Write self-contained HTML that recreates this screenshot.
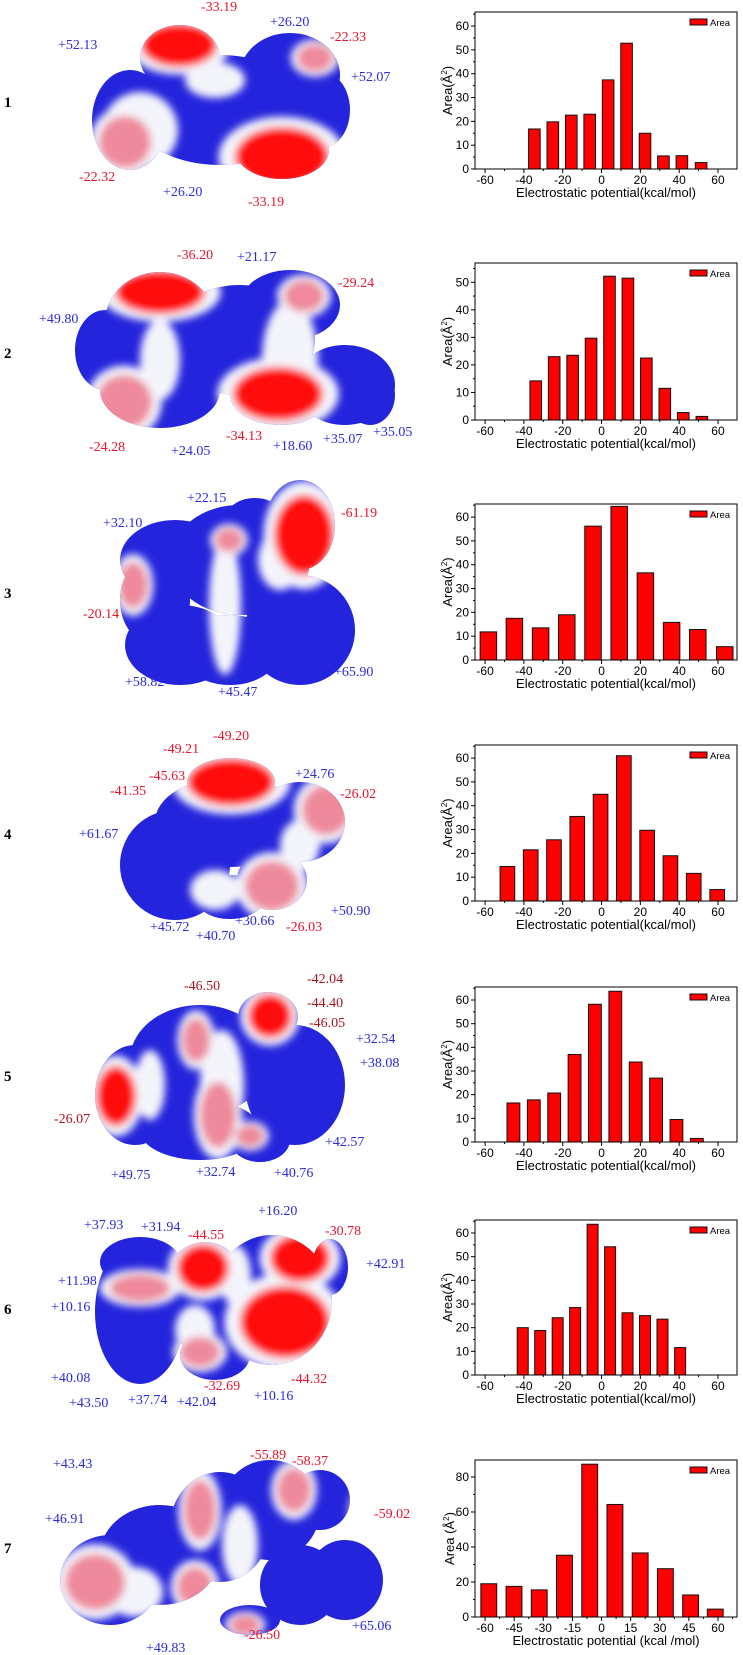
<!DOCTYPE html>
<html><head><meta charset="utf-8">
<style>
html,body{margin:0;padding:0;background:#fff;}
svg{display:block;font-family:"Liberation Sans",sans-serif;}
.lab{font-family:"Liberation Serif",serif;font-size:14px;}
.num{font-family:"Liberation Serif",serif;font-size:15px;font-weight:bold;}
</style></head>
<body>
<svg id="root" width="743" height="1655" viewBox="0 0 743 1655" xmlns="http://www.w3.org/2000/svg">
<defs>
<filter id="soft" filterUnits="userSpaceOnUse" x="0" y="0" width="743" height="1655"><feGaussianBlur stdDeviation="4"/></filter>
</defs>
<g id="mols"></g>
<g id="charts"></g>
</svg>
<script>
// ---------- chart data ----------
const centers1=[-34.6,-25.1,-15.6,-6.1,3.4,12.9,22.4,31.9,41.4,51.3];
const values1=[16.8,19.8,22.6,23.0,37.4,52.8,15.0,5.5,5.6,2.7];
const centers2=[-33.9,-24.4,-14.9,-5.4,4.1,13.6,23.1,32.6,42.1,51.7];
const values2=[14.2,23.0,23.5,29.7,52.2,51.5,22.5,11.5,2.7,1.3];
const centers3=[-58.3,-44.9,-31.4,-17.9,-4.4,9.1,22.6,36.1,49.6,63.5];
const values3=[11.8,17.5,13.5,19.0,56.2,64.5,36.6,15.8,12.8,5.6];
const centers4=[-48.5,-36.5,-24.5,-12.5,-0.5,11.5,23.5,35.5,47.5,59.6];
const values4=[14.5,21.5,25.7,35.5,44.8,61.0,29.7,19.0,11.6,4.8];
const centers5=[-45.4,-34.9,-24.4,-13.9,-3.4,7.1,17.6,28.1,38.6,49.1];
const values5=[16.5,17.8,20.7,37.0,58.2,63.7,33.8,27.0,9.5,1.5];
const centers6=[-40.6,-31.6,-22.6,-13.6,-4.6,4.4,13.4,22.4,31.4,40.5];
const values6=[20.0,18.8,24.2,28.5,63.7,54.2,26.3,25.1,23.6,11.6];
const centers7=[-58.1,-45.1,-32.1,-19.1,-6.1,6.9,19.9,32.9,45.9,58.6];
const values7=[19.0,17.5,15.5,35.3,87.3,64.3,36.6,27.6,12.6,4.5];
const xticksA=[-60,-40,-20,0,20,40,60];
const xticks7=[-60,-45,-30,-15,0,15,30,45,60];
const yticksA=[0,10,20,30,40,50,60];
const yticks2=[0,10,20,30,40,50];
const yticks7=[0,20,40,60,80];

const NS="http://www.w3.org/2000/svg";
function mk(tag,attrs,parent){const e=document.createElementNS(NS,tag);for(const k in attrs)e.setAttribute(k,attrs[k]);if(parent)parent.appendChild(e);return e;}

const chartsG=document.getElementById('charts');
const charts=[
 {c:centers1,v:values1,top:12,bot:169,ymax:65.9,yt:yticksA,xt:xticksA,step:9.5},
 {c:centers2,v:values2,top:263,bot:420,ymax:57,yt:yticks2,xt:xticksA,step:9.5},
 {c:centers3,v:values3,top:504,bot:660,ymax:65.5,yt:yticksA,xt:xticksA,step:13.5},
 {c:centers4,v:values4,top:745,bot:901,ymax:65.5,yt:yticksA,xt:xticksA,step:12},
 {c:centers5,v:values5,top:987,bot:1142,ymax:65.5,yt:yticksA,xt:xticksA,step:10.5},
 {c:centers6,v:values6,top:1220,bot:1375,ymax:65.5,yt:yticksA,xt:xticksA,step:9},
 {c:centers7,v:values7,top:1460,bot:1617,ymax:89.7,yt:yticks7,xt:xticks7,step:13,seven:true}
];
const L=475,R=737,XMIN=-65.2,XMAX=69.8;
charts.forEach((ch,ci)=>{
 const g=mk('g',{},chartsG);
 
 
 const xs=v=>L+(v-XMIN)/(XMAX-XMIN)*(R-L);
 const ys=v=>ch.bot-v/ch.ymax*(ch.bot-ch.top);
 const bw=0.63*ch.step*(R-L)/(XMAX-XMIN);
 ch.c.forEach((cx,i)=>{
  const y=ys(ch.v[i]);
  const r=mk('rect',{x:xs(cx)-bw/2,y:y,width:bw,height:ch.bot-y,fill:'#ff0000',stroke:'#111','stroke-width':1},g);
  
  
 });
 const fr=mk('rect',{x:L,y:ch.top,width:R-L,height:ch.bot-ch.top,fill:'none',stroke:'#000','stroke-width':1},g);
 
 
 const ystep=ch.yt[1]-ch.yt[0];
 ch.yt.forEach(t=>{
  const y=ys(t);
  mk('line',{x1:L-4,x2:L,y1:y,y2:y,stroke:'#000'},g);
  const my=ys(t+ystep/2); if(my>ch.top) mk('line',{x1:L-2,x2:L,y1:my,y2:my,stroke:'#000'},g);
  const tx=mk('text',{x:L-6,y:y+4,'text-anchor':'end','font-size':12},g);tx.textContent=t;
  
  
 });
 const xstep=ch.xt[1]-ch.xt[0];
 ch.xt.forEach(t=>{
  const x=xs(t);
  mk('line',{x1:x,x2:x,y1:ch.bot,y2:ch.bot+4,stroke:'#000'},g);
  const mx=xs(t+xstep/2); if(mx<R) mk('line',{x1:mx,x2:mx,y1:ch.bot,y2:ch.bot+2,stroke:'#000'},g);
  const tx=mk('text',{x:x,y:ch.bot+15,'text-anchor':'middle','font-size':12},g);tx.textContent=t;
  
  
 });
 const xt=mk('text',{x:606,y:ch.bot+28,'text-anchor':'middle','font-size':13},g);
 xt.textContent=ch.seven?'Electrostatic potential (kcal /mol)':'Electrostatic potential(kcal/mol)';
 
 
 const cy=(ch.top+ch.bot)/2;
 const yt=mk('text',{x:0,y:0,'text-anchor':'middle','font-size':13,transform:`translate(${ch.seven?454:452},${cy}) rotate(-90)`},g);
 yt.innerHTML=(ch.seven?'Area (Å':'Area(Å')+'<tspan dy="-5" font-size="8">2</tspan><tspan dy="5">)</tspan>';
 
 
 const lg=mk('g',{},g);
 
 
 mk('rect',{x:690,y:ch.top+7,width:17,height:6,fill:'#ff0000',stroke:'#111','stroke-width':1},lg);
 const lt=mk('text',{x:710,y:ch.top+14,'font-size':9.5},lg);lt.textContent='Area';
});

// ---------- molecule panels ----------
const BLUE='#2424dc',RED='#ff0f0f',PINK='#ee8a9c',WHITE='#f4f4fb';
const mols=[
 {base:[[130,120,38,50],[180,58,40,33],[220,110,90,55],[290,75,50,42],[322,110,28,38],[282,150,47,29],[127,140,28,25]],
  ov:[['w',140,130,38,38],['w',215,80,30,18],['p',125,142,26,26],['r',179,45,38,22],['r',282,157,47,30],['p',315,58,18,14]],
  labels:[['-33.19',201,6,'r'],['+26.20',270,21,'b'],['-22.33',330,36,'r'],['+52.13',58,44,'b'],['+52.07',351,76,'b'],['-22.32',79,176,'r'],['+26.20',163,191,'b'],['-33.19',248,201,'r']]},
 {base:[[105,350,30,40],[160,322,55,50],[160,390,60,38],[240,340,75,55],[290,305,50,35],[345,385,50,40],[280,395,50,30],[370,395,25,30]],
  ov:[['w',290,360,28,60],['w',160,360,20,40],['r',160,292,45,22],['r',278,394,45,27],['p',124,402,28,27],['p',304,296,20,16]],
  labels:[['-36.20',177,254,'r'],['+21.17',237,256,'b'],['-29.24',338,282,'r'],['+49.80',39,318,'b'],['-24.28',89,446,'r'],['+24.05',171,450,'b'],['-34.13',226,435,'r'],['+18.60',273,445,'b'],['+35.07',323,438,'b'],['+35.05',373,431,'b']]},
 {base:[[155,600,35,45],[175,560,55,40],[240,560,70,55],[255,520,30,22],[300,525,35,45],[300,630,55,55],[180,645,55,40],[230,650,50,35]],
  ov:[['w',225,605,16,70],['w',280,560,22,30],['r',304,535,30,40],['p',133,585,15,23],['p',229,540,14,12]],
  labels:[['+22.15',187,497,'b'],['+32.10',103,522,'b'],['-61.19',341,512,'r'],['-20.14',83,613,'r'],['+58.82',125,681,'b'],['+45.47',218,691,'b'],['+65.90',334,671,'b']]},
 {base:[[175,865,55,55],[230,822,75,45],[231,782,44,24],[300,822,45,40],[272,880,35,30],[230,897,35,22]],
  ov:[['w',215,890,25,20],['w',300,845,20,25],['r',231,782,44,24],['p',326,810,24,25],['p',272,886,27,25]],
  labels:[['-49.21',163,748,'r'],['-49.20',213,735,'r'],['-45.63',149,775,'r'],['+24.76',295,773,'b'],['-41.35',110,790,'r'],['-26.02',340,793,'r'],['+61.67',79,833,'b'],['+45.72',150,926,'b'],['+40.70',196,935,'b'],['+30.66',235,920,'b'],['-26.03',286,926,'r'],['+50.90',331,910,'b']]},
 {base:[[135,1095,40,50],[200,1060,70,55],[268,1017,30,25],[295,1085,50,60],[200,1130,60,30],[260,1140,30,22]],
  ov:[['w',222,1085,22,55],['w',150,1085,15,35],['r',116,1096,20,30],['r',270,1016,22,22],['p',218,1115,18,33],['p',196,1040,14,22],['p',250,1136,14,11]],
  labels:[['-46.50',184,985,'d'],['-42.04',307,978,'d'],['-44.40',307,1002,'d'],['-46.05',309,1022,'d'],['+32.54',356,1038,'b'],['+38.08',360,1062,'b'],['-26.07',54,1118,'d'],['+42.57',325,1141,'b'],['+49.75',111,1174,'b'],['+32.74',196,1171,'b'],['+40.76',274,1172,'b']]},
 {base:[[140,1312,45,72],[140,1262,40,25],[205,1297,45,55],[272,1300,60,65],[330,1267,18,28],[215,1355,35,25]],
  ov:[['w',235,1275,16,30],['w',195,1330,20,25],['r',203,1268,26,24],['r',285,1322,45,36],['r',300,1258,30,24],['p',140,1288,30,14],['p',200,1352,20,15]],
  labels:[['+16.20',258,1210,'b'],['+37.93',84,1224,'b'],['+31.94',141,1226,'b'],['-44.55',188,1234,'r'],['-30.78',325,1230,'r'],['+42.91',366,1263,'b'],['+11.98',58,1280,'b'],['+10.16',51,1306,'b'],['+40.08',51,1377,'b'],['+43.50',69,1402,'b'],['+37.74',128,1399,'b'],['+42.04',177,1401,'b'],['-32.69',204,1385,'r'],['+10.16',254,1395,'b'],['-44.32',291,1378,'r']]},
 {base:[[110,1580,50,45],[160,1555,60,50],[220,1527,50,55],[270,1510,50,50],[320,1500,30,30],[345,1580,38,40],[300,1585,40,40],[250,1620,30,15]],
  ov:[['w',135,1592,28,25],['w',240,1545,18,40],['p',95,1582,30,28],['p',200,1510,16,30],['p',195,1587,18,20],['p',294,1490,17,22],['r',358,1512,7,15],['p',245,1625,15,10]],
  labels:[['-55.89',250,1454,'r'],['-58.37',292,1460,'r'],['+43.43',53,1463,'b'],['-59.02',374,1513,'r'],['+46.91',45,1518,'b'],['+65.06',352,1625,'b'],['-26.50',244,1634,'r'],['+49.83',146,1647,'b']]}
];
const numY=[102,353,593,834,1076,1309,1548];
const molsG=document.getElementById('mols');
const defs=document.querySelector('defs');
const colMap={r:RED,p:PINK,w:WHITE};
const labCol={r:'#e8142c',b:'#2a2ae0',d:'#a8141c'};
mols.forEach((m,mi)=>{
 const g=mk('g',{},molsG);
 
 
 const cp=mk('clipPath',{id:'clip'+mi},defs);
 m.base.forEach(b=>mk('ellipse',{cx:b[0],cy:b[1],rx:b[2],ry:b[3]},cp));
 const surf=mk('g',{'clip-path':'url(#clip'+mi+')'},g);
 
 
 mk('rect',{x:0,y:0,width:420,height:1655,fill:BLUE},surf);
 const blur=mk('g',{filter:'url(#soft)'},surf);
 m.ov.forEach(o=>{
  if(o[0]!=='w') mk('ellipse',{cx:o[1],cy:o[2],rx:o[3]*1.35,ry:o[4]*1.35,fill:WHITE},blur);
 });
 m.ov.forEach(o=>mk('ellipse',{cx:o[1],cy:o[2],rx:o[3],ry:o[4],fill:colMap[o[0]]},blur));
 const n=mk('text',{x:4,y:numY[mi]+5,class:'num'},g);n.textContent=String(mi+1);
 
 
 m.labels.forEach(l=>{
  const t=mk('text',{x:l[1],y:l[2]+5,class:'lab',fill:labCol[l[3]]},g);t.textContent=l[0];
  
  
 });
});
</script>
</body></html>
